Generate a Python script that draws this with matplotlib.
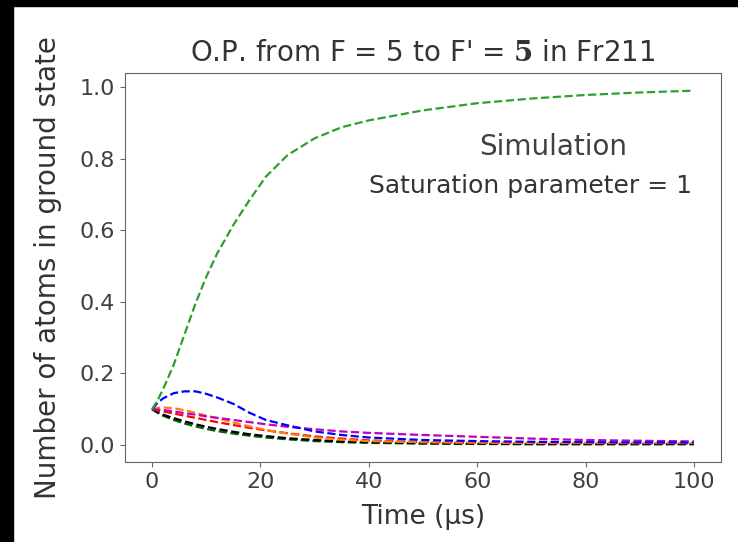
import matplotlib
matplotlib.use('Agg')
import matplotlib.pyplot as plt
from matplotlib.patches import Rectangle

# time grid (us) and populations
time_us = [0, 1, 2, 4, 6, 8, 10, 12, 15, 18, 21, 25, 30, 35, 40, 50, 60, 70, 80, 90, 100]

pop_green = [0.10, 0.125, 0.155, 0.225, 0.31, 0.395, 0.47, 0.535, 0.615, 0.685, 0.75, 0.81,
             0.857, 0.888, 0.907, 0.935, 0.955, 0.968, 0.978, 0.985, 0.99]
pop_blue = [0.10, 0.118, 0.13, 0.145, 0.15, 0.15, 0.143, 0.133, 0.115, 0.09, 0.07, 0.055,
            0.038, 0.028, 0.021, 0.014, 0.011, 0.009, 0.008, 0.007, 0.007]
pop_orange = [0.10, 0.104, 0.105, 0.103, 0.097, 0.09, 0.082, 0.075, 0.063, 0.052, 0.042,
              0.032, 0.021, 0.015, 0.011, 0.008, 0.007, 0.006, 0.006, 0.006, 0.006]
pop_magenta = [0.10, 0.099, 0.098, 0.094, 0.089, 0.085, 0.08, 0.076, 0.07, 0.064, 0.058,
               0.051, 0.044, 0.038, 0.034, 0.028, 0.023, 0.018, 0.014, 0.012, 0.01]
pop_red = [0.10, 0.097, 0.094, 0.088, 0.082, 0.076, 0.07, 0.064, 0.056, 0.048, 0.041,
           0.033, 0.024, 0.018, 0.013, 0.008, 0.006, 0.005, 0.005, 0.005, 0.005]
pop_black = [0.10, 0.092, 0.085, 0.075, 0.066, 0.058, 0.051, 0.045, 0.037, 0.03, 0.025,
             0.019, 0.014, 0.01, 0.008, 0.005, 0.004, 0.003, 0.003, 0.003, 0.003]
pop_dkgreen = [0.10, 0.09, 0.082, 0.07, 0.06, 0.052, 0.045, 0.039, 0.032, 0.026, 0.021,
               0.016, 0.011, 0.008, 0.006, 0.004, 0.003, 0.002, 0.002, 0.002, 0.002]

curves = [
    (pop_dkgreen, 'darkgreen'),
    (pop_black, 'k'),
    (pop_red, 'r'),
    (pop_orange, 'tab:orange'),
    (pop_magenta, 'm'),
    (pop_blue, 'b'),
    (pop_green, 'tab:green'),
]

plt.rcParams['mathtext.fontset'] = 'dejavuserif'

fig = plt.figure(figsize=(7.38, 5.42), dpi=100)
ax = fig.add_axes([0.1694, 0.1476, 0.8076, 0.7177])

for ys, c in curves:
    ax.plot(time_us, ys, '--', color=c, linewidth=1.6)

ax.set_title("O.P. from F = 5 to F' = $\\mathbf{5}$ in Fr211", fontsize=20, pad=9, color='0.2')
ax.set_xlabel('Time (\u00b5s)', fontsize=19, color='0.2', labelpad=9)
ax.set_ylabel('Number of atoms in ground state', fontsize=20, color='0.2', labelpad=13)
ax.tick_params(labelsize=16, labelcolor='0.25', color='0.4')
for s in ax.spines.values():
    s.set_color('0.4')

ax.text(0.718, 0.81, 'Simulation', transform=ax.transAxes, ha='center', va='center',
        fontsize=20, color='0.25')
ax.text(0.68, 0.71, 'Saturation parameter = 1', transform=ax.transAxes, ha='center',
        va='center', fontsize=18, color='0.2')

# black borders of the screenshot
fig.patches.append(Rectangle((0, 0.989), 1, 0.011, transform=fig.transFigure,
                             color='black', zorder=10))
fig.patches.append(Rectangle((0, 0), 0.0176, 1, transform=fig.transFigure,
                             color='black', zorder=10))

fig.savefig('out.png', dpi=100)
